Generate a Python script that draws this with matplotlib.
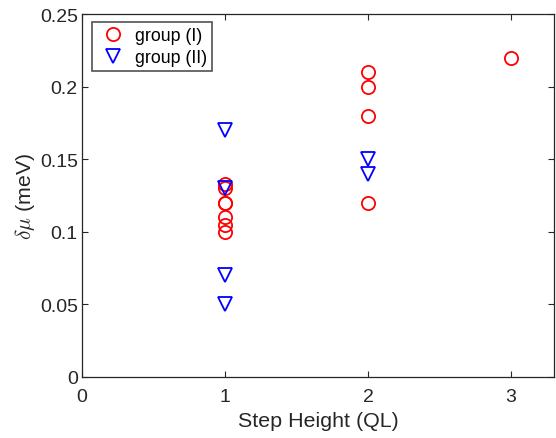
import matplotlib
matplotlib.use("Agg")
import matplotlib.pyplot as plt

plt.rcParams['font.family'] = ['Liberation Sans', 'DejaVu Sans']
plt.rcParams['mathtext.fontset'] = 'cm'

g1_x = [1, 1, 1, 1, 1, 1, 1, 2, 2, 2, 2, 3]
g1_y = [0.133, 0.13, 0.12, 0.12, 0.11, 0.105, 0.10, 0.21, 0.20, 0.18, 0.12, 0.22]
g2_x = [1, 1, 1, 1, 2, 2]
g2_y = [0.17, 0.13, 0.07, 0.05, 0.15, 0.14]

fig = plt.figure(figsize=(5.56, 4.39), dpi=100)
ax = fig.add_axes([82/556, 1-378/439, (554-82)/556, (378-15)/439])
ax.plot(g1_x, g1_y, 'o', mfc='none', mec='red', ms=9.5, mew=1.3, ls='none', label='group (I)')
ax.plot(g2_x, g2_y, 'v', mfc='none', mec='blue', ms=10.5, mew=1.3, ls='none', label='group (II)')
ax.set_xlim(0, 3.3)
ax.set_ylim(0, 0.25)
ax.set_xticks([0, 1, 2, 3])
ax.set_xticklabels(['0', '1', '2', '3'])
ax.set_yticks([0, 0.05, 0.1, 0.15, 0.2, 0.25])
ax.set_yticklabels(['0', '0.05', '0.1', '0.15', '0.2', '0.25'])
gray = '#262626'
ax.tick_params(direction='in', top=True, right=True, length=4, width=0.8, labelsize=14, colors=gray, labelcolor=gray)
ax.tick_params(axis='x', pad=8)
ax.tick_params(axis='y', pad=3)
for s in ax.spines.values():
    s.set_color(gray)
    s.set_linewidth(0.9)
ax.set_xlabel('Step Height (QL)', fontsize=15.4, color=gray, labelpad=4)
ax.set_ylabel(r'$\delta\mu$ (meV)', fontsize=15.4, color=gray, labelpad=2)
leg = ax.legend(loc='upper left', bbox_to_anchor=(10/472, 1-8/363), fontsize=12.8, frameon=True, fancybox=False,
                edgecolor=gray, handletextpad=0.3, borderpad=0.3, labelspacing=0.25, handlelength=1.8, borderaxespad=0)
leg.get_frame().set_linewidth(1.2)
fig.savefig('out.png', dpi=100)
